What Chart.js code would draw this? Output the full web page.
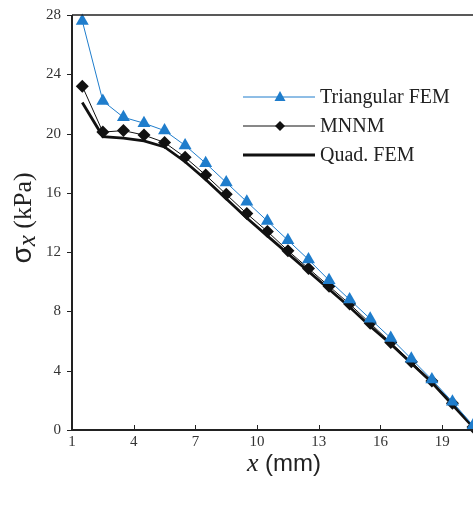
<!DOCTYPE html>
<html><head><meta charset="utf-8">
<script src="https://cdn.jsdelivr.net/npm/chart.js@4.4.0/dist/chart.umd.min.js"></script>
<style>html,body{margin:0;padding:0;background:#fff}#wrap{width:473px;height:506px}</style>
</head><body><div id="wrap"><canvas id="c" width="473" height="506"></canvas></div>
<script>
const xValues = [1.5,2.5,3.5,4.5,5.5,6.5,7.5,8.5,9.5,10.5,11.5,12.5,13.5,14.5,15.5,16.5,17.5,18.5,19.5,20.5];
const triFEM = [27.6,22.2,21.1,20.7,20.2,19.2,18.0,16.7,15.4,14.1,12.8,11.5,10.1,8.8,7.5,6.2,4.8,3.4,1.9,0.3];
const mnnm   = [23.2,20.1,20.2,19.9,19.4,18.4,17.2,15.9,14.6,13.4,12.1,10.9,9.7,8.5,7.2,5.9,4.6,3.3,1.8,0.2];
const quadFEM= [22.1,19.8,19.7,19.5,19.1,18.1,16.9,15.6,14.3,13.1,11.9,10.7,9.5,8.3,7.0,5.8,4.5,3.2,1.7,0.2];
const xTicks = [1,4,7,10,13,16,19];
const yTicks = [0,4,8,12,16,20,24,28];
const seriesNames = ['Triangular FEM','MNNM','Quad. FEM'];

const toPts = arr => arr.map((v,i)=>({x:xValues[i], y:v}));
const blue = '#1f7dcc';
const axisColor = '#222';

const decor = {
  id:'decor',
  afterDraw(chart){
    const {ctx, chartArea:a, scales:{x,y}} = chart;
    ctx.save();
    ctx.strokeStyle = axisColor;
    ctx.lineWidth = 2;
    ctx.beginPath();
    ctx.moveTo(a.left, a.top); ctx.lineTo(a.left, a.bottom); ctx.lineTo(a.right, a.bottom);
    ctx.stroke();
    ctx.lineWidth = 1.5;
    ctx.beginPath(); ctx.moveTo(a.left, a.top); ctx.lineTo(a.right, a.top); ctx.stroke();
    ctx.lineWidth = 1;
    xTicks.forEach(t=>{ const px = Math.round(x.getPixelForValue(t))+0.5;
      ctx.beginPath(); ctx.moveTo(px, a.bottom); ctx.lineTo(px, a.bottom-5); ctx.stroke(); });
    yTicks.forEach(t=>{ const py = Math.round(y.getPixelForValue(t))+0.5;
      ctx.beginPath(); ctx.moveTo(a.left-5, py); ctx.lineTo(a.left, py); ctx.stroke(); });
    // legend
    const lx0 = 243, lx1 = 315, tx = 320, rows = [97,126,155];
    ctx.font = '20px "Liberation Serif"';
    ctx.textBaseline = 'middle'; ctx.textAlign = 'left';
    chart.data.datasets.forEach((ds,i)=>{
      const yy = rows[i];
      ctx.strokeStyle = ds.borderColor; ctx.lineWidth = ds.borderWidth;
      ctx.beginPath(); ctx.moveTo(lx0, yy); ctx.lineTo(lx1, yy); ctx.stroke();
      const cx = (lx0+lx1)/2 + 1;
      ctx.fillStyle = ds.pointBackgroundColor;
      if (ds.pointStyle === 'triangle') {
        ctx.beginPath(); ctx.moveTo(cx, yy-6); ctx.lineTo(cx+5.5, yy+4); ctx.lineTo(cx-5.5, yy+4); ctx.closePath(); ctx.fill();
      } else if (ds.pointStyle === 'rectRot') {
        ctx.beginPath(); ctx.moveTo(cx, yy-5); ctx.lineTo(cx+5, yy); ctx.lineTo(cx, yy+5); ctx.lineTo(cx-5, yy); ctx.closePath(); ctx.fill();
      }
      ctx.fillStyle = '#222';
      ctx.fillText(ds.label, tx, yy+1);
    });
    // y title
    ctx.save();
    ctx.translate(31, 218);
    ctx.rotate(-Math.PI/2);
    ctx.fillStyle = '#222';
    ctx.textAlign = 'left'; ctx.textBaseline = 'alphabetic';
    const f1 = '28px "Liberation Sans"', f2 = 'italic 25px "Liberation Serif"', f3 = '26px "Liberation Serif"';
    ctx.font = f1; const s1 = 'σ'; const w1 = ctx.measureText(s1).width;
    ctx.font = f2; const s2 = 'x'; const w2 = ctx.measureText(s2).width;
    ctx.font = f3; const s3 = ' (kPa)'; const w3 = ctx.measureText(s3).width;
    let sx = -(w1+w2+w3)/2;
    ctx.font = f1; ctx.fillText(s1, sx, 0); sx += w1;
    ctx.font = f2; ctx.fillText(s2, sx, 4); sx += w2;
    ctx.font = f3; ctx.fillText(s3, sx, 0);
    ctx.restore();
    // x title
    ctx.fillStyle = '#222'; ctx.textBaseline='alphabetic'; ctx.textAlign='left';
    const g1 = 'italic 26px "Liberation Serif"', g2 = '24px "Liberation Sans"';
    ctx.font = g1; const t1='x'; const tw1=ctx.measureText(t1).width;
    ctx.font = g2; const t2=' (mm)'; const tw2=ctx.measureText(t2).width;
    let bx = 284-(tw1+tw2)/2;
    ctx.font = g1; ctx.fillText(t1,bx,471);
    ctx.font = g2; ctx.fillText(t2,bx+tw1,471);
    ctx.restore();
  }
};

new Chart(document.getElementById('c'), {
  type:'line',
  data:{datasets:[
    {label:seriesNames[0], data:toPts(triFEM), borderColor:blue, backgroundColor:blue, pointBackgroundColor:blue, pointBorderColor:blue, borderWidth:1, pointStyle:'triangle', pointRadius:7.5, pointBorderWidth:0, tension:0},
    {label:seriesNames[1], data:toPts(mnnm), borderColor:'#111', backgroundColor:'#111', pointBackgroundColor:'#111', pointBorderColor:'#111', borderWidth:1, pointStyle:'rectRot', pointRadius:6.5, pointBorderWidth:0, tension:0},
    {label:seriesNames[2], data:toPts(quadFEM), borderColor:'#111', backgroundColor:'#111', pointBackgroundColor:'#111', borderWidth:2.8, pointRadius:0, tension:0}
  ]},
  options:{
    responsive:false, animation:false, clip:false,
    layout:{autoPadding:false, padding:{top:15,right:0,left:0,bottom:0}},
    plugins:{legend:{display:false}, tooltip:{enabled:false}},
    scales:{
      x:{type:'linear', min:1, max:20.5,
        afterBuildTicks:s=>{s.ticks = xTicks.map(v=>({value:v}));},
        afterFit:s=>{s.height = 76; s.paddingLeft = 0; s.paddingRight = 0;},
        grid:{display:false, drawTicks:false}, border:{display:false},
        ticks:{padding:3, color:'#333', font:{family:'Liberation Serif', size:15}, maxRotation:0, autoSkip:false}
      },
      y:{type:'linear', min:0, max:28,
        afterBuildTicks:s=>{s.ticks = yTicks.map(v=>({value:v}));},
        afterFit:s=>{s.width = 72; s.paddingTop = 0; s.paddingBottom = 0;},
        grid:{display:false, drawTicks:false}, border:{display:false},
        ticks:{padding:11, color:'#333', font:{family:'Liberation Serif', size:15}, autoSkip:false}
      }
    }
  },
  plugins:[decor]
});
</script></body></html>
